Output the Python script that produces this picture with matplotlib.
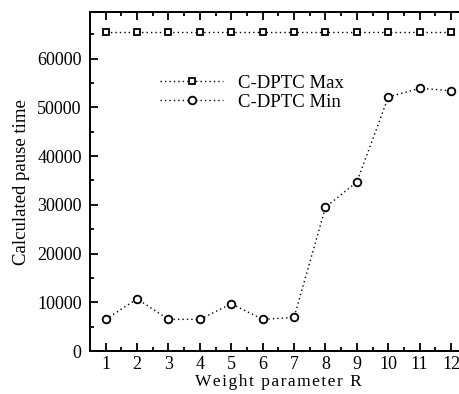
import matplotlib
matplotlib.use('Agg')
import matplotlib.pyplot as plt
from matplotlib.ticker import MultipleLocator

# weight parameter R
r_vals = [1, 2, 3, 4, 5, 6, 7, 8, 9, 10, 11, 12]
# calculated pause times
max_vals = [65535] * 12
min_vals = [6500, 10700, 6500, 6500, 9700, 6500, 6900, 29500, 34700, 52100, 53900, 53400]

plt.rcParams['font.family'] = ['Liberation Serif', 'DejaVu Serif']

fig = plt.figure(figsize=(4.59, 3.94), dpi=100)
ax = fig.add_axes([0.196, 0.109, 0.821, 0.860])

ax.plot(r_vals, max_vals, linestyle=(0, (1, 2.2)), color='black', lw=1.0,
        marker='s', markersize=4.2, markerfacecolor='white',
        markeredgewidth=1.3, label='C-DPTC Max')
ax.plot(r_vals, min_vals, linestyle=(0, (1, 2.2)), color='black', lw=1.0,
        marker='o', markersize=5.5, markerfacecolor='white',
        markeredgewidth=1.3, label='C-DPTC Min')

ax.set_xlim(0.5, 12.5)
ax.set_ylim(0, 69500)
ax.xaxis.set_major_locator(MultipleLocator(1))
ax.xaxis.set_minor_locator(MultipleLocator(0.5))
ax.yaxis.set_major_locator(MultipleLocator(10000))
ax.yaxis.set_minor_locator(MultipleLocator(5000))
ax.tick_params(which='both', direction='in', top=True, right=True,
               width=1.3, labelsize=13)
ax.tick_params(which='major', length=6)
ax.tick_params(which='minor', length=3)
ax.tick_params(axis='y', pad=6)
for s in ax.spines.values():
    s.set_linewidth(1.4)

hs = '\u200a'
ax.set_xlabel(hs.join('Weight parameter R'), fontsize=12.5, labelpad=1)
ax.set_ylabel('Calculated pause time', fontsize=13.5, labelpad=5)

ax.legend(loc='upper left', bbox_to_anchor=(0.142, 0.866), frameon=False,
          fontsize=13.5, handlelength=3.35, handletextpad=0.8,
          labelspacing=0.1)

fig.savefig('out.png', dpi=100)
